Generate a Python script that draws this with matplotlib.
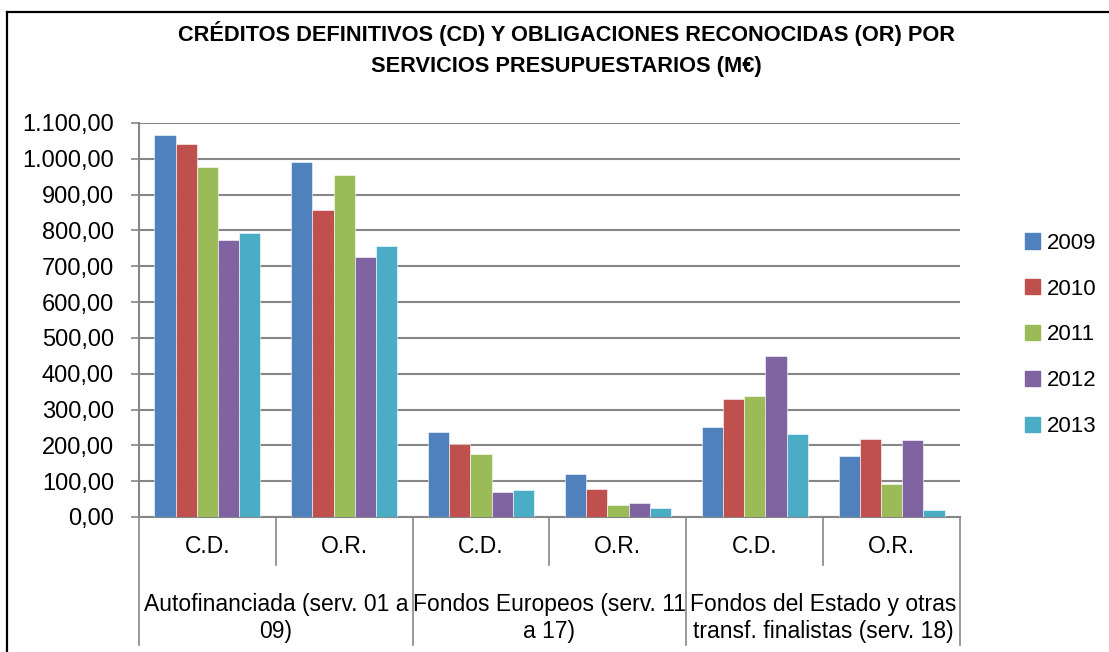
import matplotlib
matplotlib.use("Agg")
import matplotlib.pyplot as plt
from matplotlib.lines import Line2D
from matplotlib.patches import Patch
import numpy as np

plt.rcParams['font.family'] = ['Liberation Sans', 'DejaVu Sans']

# data (M EUR)
years = ['2009', '2010', '2011', '2012', '2013']
sub_labels = ['C.D.', 'O.R.', 'C.D.', 'O.R.', 'C.D.', 'O.R.']
group_labels = ['Autofinanciada (serv. 01 a\n09)',
                'Fondos Europeos (serv. 11\na 17)',
                'Fondos del Estado y otras\ntransf. finalistas (serv. 18)']
v2009 = [1066, 990, 238, 120, 250, 169]
v2010 = [1041, 857, 204, 77, 329, 217]
v2011 = [976, 955, 175, 33, 337, 93]
v2012 = [774, 726, 69, 38, 449, 215]
v2013 = [794, 757, 74, 25, 233, 20]
series = [v2009, v2010, v2011, v2012, v2013]
colors = ['#4F81BD', '#C0504D', '#9BBB59', '#8064A2', '#4BACC6']

W, H = 1109, 652
fig = plt.figure(figsize=(W / 100, H / 100), dpi=100)
ax = fig.add_axes([139 / W, 1 - 517 / H, 821 / W, 394 / H])

x = np.arange(len(sub_labels))
w = 0.155
for k, (vals, c) in enumerate(zip(series, colors)):
    ax.bar(x + (k - 2) * w, vals, w, color=c, edgecolor='white',
           linewidth=0.4, zorder=3, label=years[k])

ax.set_xlim(-0.5, 5.5)
ax.set_ylim(0, 1100)
ax.set_yticks(np.arange(0, 1101, 100))
ax.set_yticklabels([f"{v:,.2f}".replace(',', 'X').replace('.', ',').replace('X', '.')
                    for v in np.arange(0, 1101, 100)], fontsize=17)
ax.yaxis.grid(True, color='#868686', linewidth=1.5, zorder=0)
ax.set_axisbelow(True)
ax.tick_params(axis='y', length=6, width=1.2, color='#868686', pad=12)
ax.set_xticks([])
for s in ['top', 'right']:
    ax.spines[s].set_visible(False)
for s in ['left', 'bottom']:
    ax.spines[s].set_color('#868686')
    ax.spines[s].set_linewidth(1.5)

# category axis dividers and labels
trans = ax.get_xaxis_transform()
for xv in [0.5, 2.5, 4.5]:
    ax.plot([xv, xv], [0, -0.122], transform=trans, color='#868686',
            lw=1.2, clip_on=False)
for xv in [-0.5, 1.5, 3.5, 5.5]:
    ax.plot([xv, xv], [0, -0.325], transform=trans, color='#868686',
            lw=1.2, clip_on=False)
for i, lab in enumerate(sub_labels):
    ax.text(i, -0.076, lab, transform=trans, ha='center', va='center', fontsize=16.5)
for g, lab in enumerate(group_labels):
    ax.text(2 * g + 0.5, -0.256, lab, transform=trans, ha='center', va='center',
            fontsize=16.5, linespacing=1.2)

# title
fig.text(566 / W, 1 - 49 / H,
         'CRÉDITOS DEFINITIVOS (CD) Y OBLIGACIONES RECONOCIDAS (OR) POR\nSERVICIOS PRESUPUESTARIOS (M€)',
         ha='center', va='center', fontsize=15.7, fontweight='bold', linespacing=1.65)

# legend
handles = [Patch(color=c) for c in colors]
fig.legend(handles, years, loc='center left', bbox_to_anchor=(1025 / W, 1 - 335 / H),
           frameon=False, fontsize=16, handlelength=0.68, handleheight=0.68,
           handletextpad=0.3, labelspacing=1.12, borderpad=0, borderaxespad=0)

# outer frame
fig.add_artist(Line2D([7 / W, 1], [1 - 12 / H, 1 - 12 / H], color='black', lw=1.6))
fig.add_artist(Line2D([7 / W, 7 / W], [0, 1 - 12 / H], color='black', lw=1.6))

fig.savefig('out.png', dpi=100)
